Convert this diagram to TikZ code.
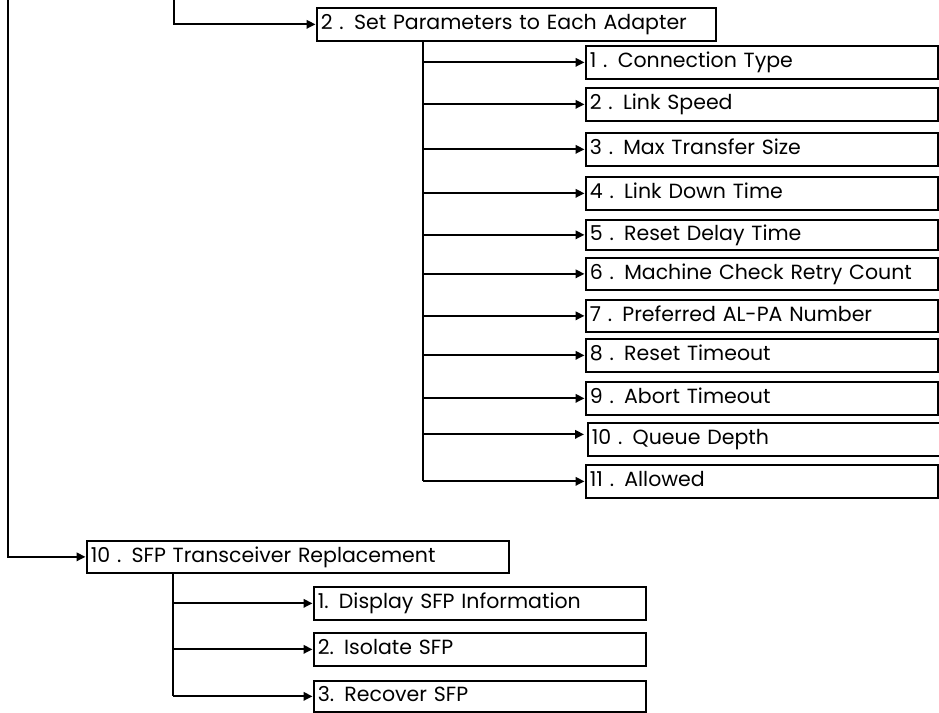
\documentclass[tikz,border=0pt]{standalone}
\usepackage{fontspec}
\setmainfont{Poppins}
\usetikzlibrary{arrows.meta}

\tikzset{
  wire/.style={line width=1.9pt},
  arr/.style={wire, -{Triangle[length=9pt,width=8.5pt]}, shorten >=0.5pt},
  menubox/.style={draw, line width=1.7pt, anchor=north west, minimum height=33pt,
    inner xsep=4pt, inner ysep=0pt, align=left, text height=15pt, text depth=4pt,
    font=\fontsize{20.5}{24}\selectfont},
}

\begin{document}
\begin{tikzpicture}[x=1pt,y=-1pt]
  \useasboundingbox (0,0) rectangle (939,712);

  % upper menu and its parameter list
  \node[menubox, text width=391pt] (sp) at (316,7) {2 . Set Parameters to Each Adapter};

  \node[menubox, text width=344pt] (c1)  at (585,45)  {1 . Connection Type};
  \node[menubox, text width=344pt] (c2)  at (585,87)  {2 . Link Speed};
  \node[menubox, text width=344pt] (c3)  at (585,132) {3 . Max Transfer Size};
  \node[menubox, text width=344pt] (c4)  at (585,176) {4 . Link Down Time};
  \node[menubox, text width=344pt, minimum height=30pt] (c5)  at (585,219) {5 . Reset Delay Time};
  \node[menubox, text width=344pt, minimum height=32pt] (c6)  at (585,257) {6 . Machine Check Retry Count};
  \node[menubox, text width=344pt, minimum height=32pt] (c7)  at (585,299) {7 . Preferred AL-PA Number};
  \node[menubox, text width=344pt] (c8)  at (585,338) {8 . Reset Timeout};
  \node[menubox, text width=344pt] (c9)  at (585,381) {9 . Abort Timeout};
  \node[menubox, text width=344pt] (c10) at (587,422) {10 . Queue Depth};
  \node[menubox, text width=344pt] (c11) at (585,464) {11 . Allowed};

  % lower menu and its entries
  \node[menubox, text width=414pt, minimum height=32pt] (sfp) at (86,540) {10 . SFP Transceiver Replacement};
  \node[menubox, text width=324pt] (s1) at (313,586) {1. Display SFP Information};
  \node[menubox, text width=324pt] (s2) at (313,632) {2. Isolate SFP};
  \node[menubox, text width=324pt, minimum height=31pt] (s3) at (313,680) {3. Recover SFP};

  % feeds from the parent level
  \coordinate (outer) at (8,0);
  \coordinate (inner) at (174,0);
  \draw[arr] (inner) |- (sp.west);
  \draw[arr] (outer) |- (sfp.west);

  % parameter trunk
  \coordinate (trk) at ([xshift=107pt]sp.south west);
  \draw[wire] (trk) -- (trk |- c11.west);
  \foreach \n in {c1,c2,c3,c4,c5,c6,c7,c8,c9,c11}
    \draw[arr] (trk |- \n.west) -- (\n.west);
  % the queue-depth branch meets its box a little above centre
  \coordinate (c10in) at ([yshift=5pt]c10.west);
  \draw[arr, shorten >=3pt] (trk |- c10in) -- (c10in);

  % SFP trunk
  \coordinate (strk) at ([xshift=87pt]sfp.south west);
  \draw[wire] (strk) -- (strk |- s3.west);
  \foreach \n in {s1,s2,s3}
    \draw[arr] (strk |- \n.west) -- (\n.west);
\end{tikzpicture}
\end{document}
